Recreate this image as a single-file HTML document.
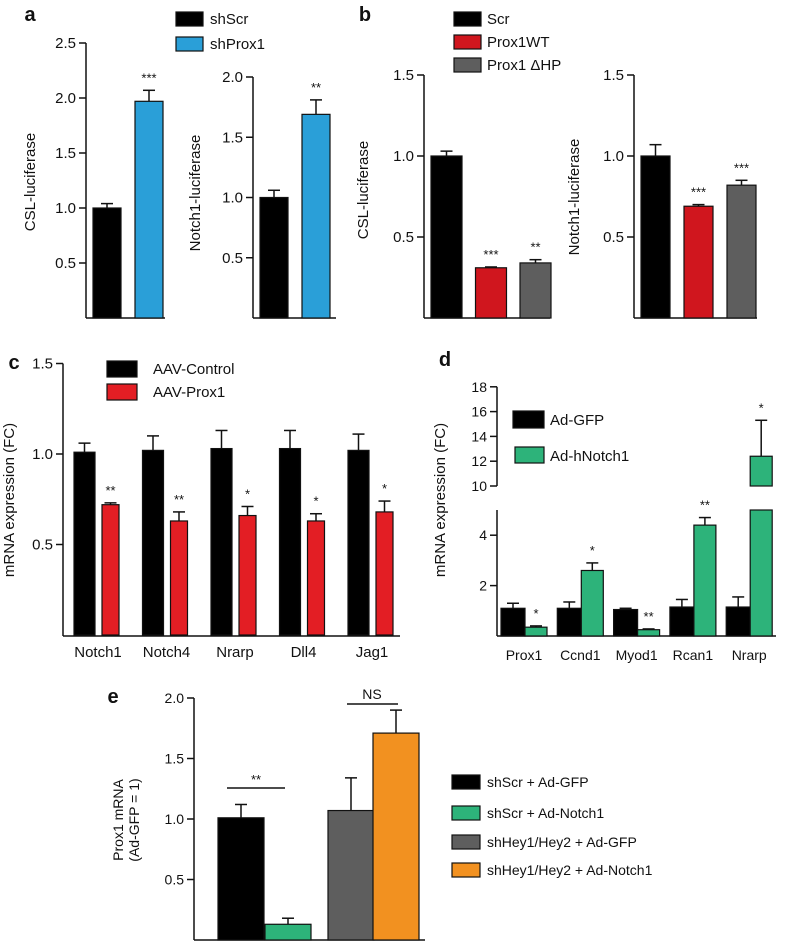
<!DOCTYPE html>
<html><head><meta charset="utf-8"><style>
body{margin:0;background:#fff}
svg{display:block;font-family:"Liberation Sans",Arial,sans-serif}
</style></head><body>
<svg id="fig" width="788" height="942" viewBox="0 0 788 942">
<g id="root"></g>
</svg>
<script>
// Panel a
const aCats=["shScr","shProx1"];
const aCSL=[1.0,1.97];const aCSLErr=[0.04,0.1];const aCSLStars=["","***"];
const aN1=[1.0,1.69];const aN1Err=[0.06,0.12];const aN1Stars=["","**"];
const aTicksL=[0.5,1.0,1.5,2.0,2.5];const aTicksR=[0.5,1.0,1.5,2.0];
// Panel b
const bCats=["Scr","Prox1WT","Prox1 ΔHP"];
const bCSL=[1.0,0.31,0.34];const bCSLErr=[0.03,0.005,0.02];const bCSLStars=["","***","**"];
const bN1=[1.0,0.69,0.82];const bN1Err=[0.07,0.01,0.03];const bN1Stars=["","***","***"];
const bTicks=[0.5,1.0,1.5];
// Panel c
const cGenes=["Notch1","Notch4","Nrarp","Dll4","Jag1"];
const cCtrl=[1.01,1.02,1.03,1.03,1.02];const cCtrlErr=[0.05,0.08,0.1,0.1,0.09];
const cProx=[0.72,0.63,0.66,0.63,0.68];const cProxErr=[0.01,0.05,0.05,0.04,0.06];
const cStars=["**","**","*","*","*"];const cTicks=[0.5,1.0,1.5];
// Panel d
const dGenes=["Prox1","Ccnd1","Myod1","Rcan1","Nrarp"];
const dGFP=[1.1,1.1,1.05,1.15,1.15];const dGFPErr=[0.2,0.25,0.05,0.3,0.4];
const dN1=[0.35,2.6,0.25,4.4,12.4];const dN1Err=[0.05,0.3,0.03,0.3,2.9];
const dStars=["*","*","**","**","*"];
const dTicksUp=[10,12,14,16,18];const dTicksLow=[2,4];
// Panel e
const eCats=["shScr + Ad-GFP","shScr + Ad-Notch1","shHey1/Hey2 + Ad-GFP","shHey1/Hey2 + Ad-Notch1"];
const eVals=[1.01,0.13,1.07,1.71];const eErr=[0.11,0.05,0.27,0.19];
const eTicks=[0.5,1.0,1.5,2.0];

const NS="http://www.w3.org/2000/svg";
const root=document.getElementById('root');
function el(tag,attrs,parent,text){const e=document.createElementNS(NS,tag);for(const k in attrs)e.setAttribute(k,attrs[k]);if(text!==undefined)e.textContent=text;(parent||root).appendChild(e);return e;}
function line(x1,y1,x2,y2,name,w){const l=el('line',{x1,y1,x2,y2,stroke:'#111','stroke-width':w||1.5});

return l;}
function text(x,y,s,size,name,anchor,extra){const t=el('text',Object.assign({x,y,'font-size':size,'text-anchor':anchor||'middle',fill:'#111'},extra||{}),root,s);

return t;}
function rect(x,y,w,h,fill,name){const r=el('rect',{x,y,width:w,height:h,fill,stroke:'#111','stroke-width':1.2});

return r;}
function ylabel(x,y,s,size,name){text(x,y,s,size,name,'middle',{transform:`rotate(-90 ${x} ${y})`});}
function bar(x,w,v,err,ys,fill,name,star,starGap){
  const y0=ys(0),y1=ys(v);rect(x,y1,w,y0-y1,fill,name);
  const cx=x+w/2,ye=ys(v+err);
  line(cx,y1,cx,ye,name+'-err');line(cx-6,ye,cx+6,ye,name+'-err-cap');
  if(star)text(cx,ye-(starGap||8),star,13,name+'-sig');
}
function yaxis(x,ys,ticks,fmt,top,bottom,name,fs){
  line(x,top,x,bottom,name);
  ticks.forEach(t=>{const y=ys(t);line(x-7,y,x,y,name+'-tick');text(x-10,y+5,fmt(t),fs||15,name+'-tick-label','end');});
}
const f1=t=>t.toFixed(1);

// ===== Panel a =====
text(30,21,"a",20,"panel-a-label",'middle',{'font-weight':'bold'});
const aysL=v=>318-v*110;
yaxis(86,aysL,aTicksL,f1,aysL(2.5),318,"a-csl-y-axis");line(86,318,165,318,"a-csl-x-axis");
ylabel(35,182,"CSL-luciferase",15,"a-csl-y-title");
const aCol=["#000","#2a9fd8"];
aCSL.forEach((v,i)=>bar(93+i*42,28,v,aCSLErr[i],aysL,aCol[i],"a-csl-bar-"+aCats[i],aCSLStars[i]));
const aysR=v=>318-v*120.5;
yaxis(253,aysR,aTicksR,f1,aysR(2.0),318,"a-notch1-y-axis");line(253,318,336,318,"a-notch1-x-axis");
ylabel(200,193,"Notch1-luciferase",15,"a-notch1-y-title");
aN1.forEach((v,i)=>bar(260+i*42,28,v,aN1Err[i],aysR,aCol[i],"a-notch1-bar-"+aCats[i],aN1Stars[i]));
aCats.forEach((c,i)=>{rect(176,12+i*25,27,14,aCol[i],"a-legend-swatch-"+c);text(210,24+i*25,c,15,"a-legend-"+c,'start');});

// ===== Panel b =====
text(365,21,"b",20,"panel-b-label",'middle',{'font-weight':'bold'});
const bys=v=>318-v*162;const bCol=["#000","#d0161e","#5e5e5e"];
yaxis(424,bys,bTicks,f1,bys(1.5),318,"b-csl-y-axis");line(424,318,550,318,"b-csl-x-axis");
ylabel(368,190,"CSL-luciferase",15,"b-csl-y-title");
bCSL.forEach((v,i)=>bar(431+i*44.5,31,v,bCSLErr[i],bys,bCol[i],"b-csl-bar-"+i,bCSLStars[i]));
yaxis(634,bys,bTicks,f1,bys(1.5),318,"b-notch1-y-axis");line(634,318,757,318,"b-notch1-x-axis");
ylabel(579,197,"Notch1-luciferase",15,"b-notch1-y-title");
bN1.forEach((v,i)=>bar(641+i*43,29,v,bN1Err[i],bys,bCol[i],"b-notch1-bar-"+i,bN1Stars[i]));
bCats.forEach((c,i)=>{rect(454,12+i*23,27,14,bCol[i],"b-legend-swatch-"+i);text(487,24+i*23,c,15,"b-legend-"+i,'start');});

// ===== Panel c =====
text(14,369,"c",20,"panel-c-label",'middle',{'font-weight':'bold'});
const cys=v=>635-v*181;
yaxis(63,cys,cTicks,f1,cys(1.5),636,"c-y-axis");line(63,636,400,636,"c-x-axis");
ylabel(14,500,"mRNA expression (FC)",15,"c-y-title");
cGenes.forEach((g,i)=>{const gx=74+i*68.5;
  bar(gx,21,cCtrl[i],cCtrlErr[i],cys,"#000","c-bar-control-"+g,"");
  bar(gx+28,17,cProx[i],cProxErr[i],cys,"#e31e24","c-bar-prox1-"+g,cStars[i]);
  text(gx+24,657,g,15,"c-x-label-"+g);});
rect(107,361,30,16,"#000","c-legend-swatch-control");text(153,374,"AAV-Control",15,"c-legend-control",'start');
rect(107,384,30,16,"#e31e24","c-legend-swatch-prox1");text(153,397,"AAV-Prox1",15,"c-legend-prox1",'start');

// ===== Panel d =====
text(445,366,"d",20,"panel-d-label",'middle',{'font-weight':'bold'});
const dLow=v=>636-v*25.2;const dUp=v=>486-(v-10)*12.4;
const dys=v=>v<=5?dLow(v):dUp(v);
line(497,dUp(18),497,dUp(10),"d-y-axis-upper");line(497,510,497,636,"d-y-axis-lower");
dTicksUp.forEach(t=>{const y=dUp(t);line(490,y,497,y,"d-tick");text(487,y+5,t,14,"d-tick-label",'end');});
dTicksLow.forEach(t=>{const y=dLow(t);line(490,y,497,y,"d-tick");text(487,y+5,t,14,"d-tick-label",'end');});
line(497,636,776,636,"d-x-axis");
ylabel(445,500,"mRNA expression (FC)",15,"d-y-title");
dGenes.forEach((g,i)=>{const gx=501+i*56.3;
  bar(gx,24,dGFP[i],dGFPErr[i],dLow,"#000","d-bar-gfp-"+g,"");
  const v=dN1[i],x=gx+24,w=22,cx=x+w/2;
  if(v<=5){bar(x,w,v,dN1Err[i],dLow,"#2db37a","d-bar-notch1-"+g,dStars[i]);}
  else{rect(x,510,w,126,"#2db37a","d-bar-notch1-"+g+"-lower");
    const yt=dUp(v);rect(x,yt,w,486-yt,"#2db37a","d-bar-notch1-"+g+"-upper");
    const ye=dUp(v+dN1Err[i]);line(cx,yt,cx,ye,"d-err");line(cx-6,ye,cx+6,ye,"d-err-cap");
    text(cx,ye-8,dStars[i],13,"d-sig");
    const gap=el('rect',{x:x-2,y:487,width:w+4,height:22,fill:'#fff'});
    
    }
  text(gx+23,660,g,14,"d-x-label-"+g);});
rect(513,411,31,17,"#000","d-legend-swatch-gfp");text(550,425,"Ad-GFP",15,"d-legend-gfp",'start');
rect(515,447,29,16,"#2db37a","d-legend-swatch-notch1");text(550,461,"Ad-hNotch1",15,"d-legend-notch1",'start');

// ===== Panel e =====
text(113,703,"e",20,"panel-e-label",'middle',{'font-weight':'bold'});
const eys=v=>940-v*121;const eCol=["#000","#2db37a","#5e5e5e","#f29120"];
yaxis(194,eys,eTicks,f1,eys(2.0),940,"e-y-axis",14);line(194,940,425,940,"e-x-axis");
text(123,820,"Prox1 mRNA",14,"e-y-title-1",'middle',{transform:"rotate(-90 123 820)"});
text(139,820,"(Ad-GFP = 1)",14,"e-y-title-2",'middle',{transform:"rotate(-90 139 820)"});
const eX=[218,265,328,373];
eVals.forEach((v,i)=>bar(eX[i],46,eVals[i],eErr[i],eys,eCol[i],"e-bar-"+i,""));
line(227,788,285,788,"e-sig-bracket-1");text(256,784,"**",13,"e-sig-1");
line(347,704,398,704,"e-sig-bracket-2");text(372,699,"NS",14,"e-sig-2");
eCats.forEach((c,i)=>{const y=[782,813,842,870][i];rect(452,y-7,28,14,eCol[i],"e-legend-swatch-"+i);text(487,y+5,c,14,"e-legend-"+i,'start');});
</script>
</body></html>
